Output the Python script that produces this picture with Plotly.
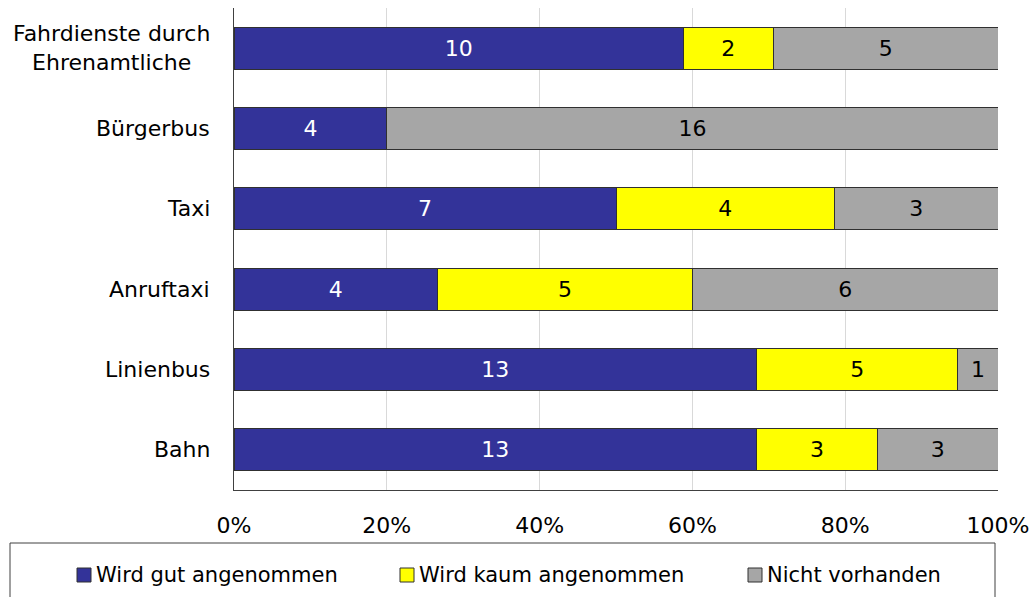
import plotly.graph_objects as go

categories = ["Fahrdienste durch<br>Ehrenamtliche", "Bürgerbus", "Taxi", "Anruftaxi", "Linienbus", "Bahn"]
gut = [10, 4, 7, 4, 13, 13]
kaum = [2, 0, 4, 5, 5, 3]
nicht = [5, 16, 3, 6, 1, 3]
series_names = ["Wird gut angenommen", "Wird kaum angenommen", "Nicht vorhanden"]
tick_vals = [0, 20, 40, 60, 80, 100]
tick_text = ["0%", "20%", "40%", "60%", "80%", "100%"]

colors = ["#333399", "#FFFF00", "#A6A6A6"]
text_colors = ["white", "black", "black"]
FONT = "DejaVu Sans"

# plot area geometry in pixels
L, R, T, B = 234, 998, 8, 490
W, H = 1035, 597


def px_x(px):
    return (px - L) / (R - L)


def px_y(py):
    return (B - py) / (B - T)


fig = go.Figure()
for name, vals, col, tc in zip(series_names, [gut, kaum, nicht], colors, text_colors):
    fig.add_trace(go.Bar(
        y=categories, x=vals, name=name, orientation="h",
        marker=dict(color=col, line=dict(color="#303030", width=1)),
        text=[str(v) if v else "" for v in vals],
        texttemplate="%{text}", textposition="inside", insidetextanchor="middle",
        textfont=dict(color=tc, size=22, family=FONT),
        constraintext="none",
        width=0.525, showlegend=False,
    ))

# category labels as centered multi-line annotations
for c in categories:
    fig.add_annotation(x=px_x(212), y=c, xref="paper", yref="y", text=c, showarrow=False,
                       xanchor="right", align="center",
                       font=dict(size=22, family=FONT, color="black"))

# legend box
fig.add_shape(type="rect", xref="paper", yref="paper",
              x0=px_x(10), x1=px_x(995), y0=px_y(543), y1=px_y(640),
              line=dict(color="#404040", width=1), fillcolor="rgba(0,0,0,0)", layer="above")

# manual legend entries
legend_x = [77, 400, 748]
legend_cy = 575
for name, col, lx in zip(series_names, colors, legend_x):
    fig.add_shape(type="rect", xref="paper", yref="paper",
                  x0=px_x(lx), x1=px_x(lx + 14), y0=px_y(legend_cy - 7), y1=px_y(legend_cy + 7),
                  line=dict(color="#303030", width=1), fillcolor=col, layer="above")
    fig.add_annotation(x=px_x(lx + 17), y=px_y(legend_cy), xref="paper", yref="paper",
                       text=name, showarrow=False, xanchor="left", yanchor="middle",
                       font=dict(size=21, family=FONT, color="black"))

fig.update_layout(
    width=W, height=H,
    margin=dict(l=L, r=W - R, t=T, b=H - B, autoexpand=False),
    barmode="stack", barnorm="percent",
    plot_bgcolor="white", paper_bgcolor="white",
    font=dict(family=FONT, size=22, color="black"),
    showlegend=False,
    xaxis=dict(range=[0, 100], tickvals=tick_vals, ticktext=tick_text,
               showgrid=True, gridcolor="#D9D9D9", gridwidth=1, automargin=False,
               zeroline=False, showline=True, linecolor="#404040", linewidth=1,
               ticks="", ticklabelstandoff=16, tickfont=dict(size=22, family=FONT)),
    yaxis=dict(autorange="reversed", showticklabels=False, showgrid=False, automargin=False,
               zeroline=False, showline=True, linecolor="#404040", linewidth=1, ticks=""),
)

fig.write_html("out.html")
